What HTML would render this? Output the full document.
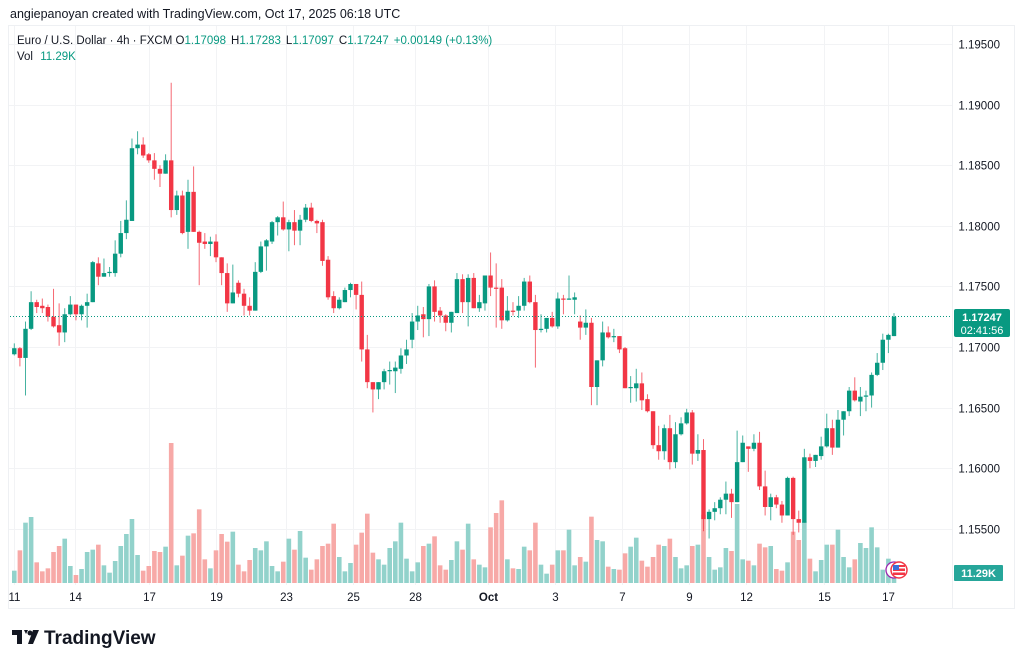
<!DOCTYPE html>
<html><head><meta charset="utf-8"><style>
html,body{margin:0;padding:0;background:#fff;width:1024px;height:665px;overflow:hidden;font-family:"Liberation Sans",sans-serif}
svg text{font-family:"Liberation Sans",sans-serif}
</style></head><body>
<svg id="chart" width="1024" height="665" viewBox="0 0 1024 665" xmlns="http://www.w3.org/2000/svg">
<rect x="0" y="0" width="1024" height="665" fill="#ffffff"/>
<text x="10" y="18" font-size="12.5" fill="#131722">angiepanoyan created with TradingView.com, Oct 17, 2025 06:18 UTC</text>
<rect x="8.5" y="25.5" width="1006" height="583" fill="none" stroke="#eef0f3"/>
<line x1="952.5" y1="26" x2="952.5" y2="608" stroke="#eef0f3"/>
<g id="grid"></g>
<g id="vols"></g>
<g id="candles"></g>
<g id="yaxis"></g>
<g id="xaxis"></g>
<line x1="10" y1="316.5" x2="952" y2="316.5" stroke="#089981" stroke-width="1" stroke-dasharray="1,2"/>
<g>
<text x="17" y="44" font-size="11.5" fill="#131722">Euro / U.S. Dollar · 4h · FXCM <tspan>O</tspan><tspan fill="#089981">1.17098</tspan><tspan dx="5">H</tspan><tspan fill="#089981">1.17283</tspan><tspan dx="5">L</tspan><tspan fill="#089981">1.17097</tspan><tspan dx="5">C</tspan><tspan fill="#089981">1.17247</tspan><tspan dx="5" fill="#089981">+0.00149 (+0.13%)</tspan></text>
<text x="17" y="60" font-size="11.5" fill="#131722">Vol <tspan dx="4" fill="#089981">11.29K</tspan></text>
</g>
<g>
<rect x="954" y="309" width="56" height="28" rx="2" fill="#089981"/>
<text x="982" y="321" font-size="11" fill="#fff" text-anchor="middle" font-weight="bold">1.17247</text>
<text x="982" y="334" font-size="11" fill="#fff" text-anchor="middle">02:41:56</text>
</g>
<g>
<rect x="954" y="565" width="49" height="16" rx="1" fill="#26a69a"/>
<text x="978.5" y="577" font-size="11" fill="#fff" text-anchor="middle" font-weight="bold">11.29K</text>
</g>
<g>
<circle cx="894" cy="570" r="8" fill="#fff" stroke="#9c27b0" stroke-width="1.3"/>
<circle cx="899" cy="570" r="8" fill="#fff" stroke="#f23645" stroke-width="1.5"/>
<rect x="893" y="565" width="12" height="10" fill="#f23645"/>
<rect x="893" y="567" width="12" height="1.5" fill="#fff"/><rect x="893" y="571" width="12" height="1.5" fill="#fff"/>
<rect x="893" y="565" width="6" height="5" fill="#3b6fd8"/>
</g>
<g>
<path d="M12 630h10v14h-5v-9h-5z M24 630h4l-2 4z" fill="#131722"/>
<circle cx="30" cy="633" r="2.5" fill="#131722"/>
<path d="M33 630h6l-6 14h-5z" fill="#131722"/>
<text x="44" y="644" font-size="19" font-weight="bold" fill="#131722">TradingView</text>
</g>
</svg>
<script>
const opens=[1.1694,1.1699,1.1691,1.1715,1.1737,1.1734,1.1733,1.1725,1.1718,1.1712,1.1727,1.1735,1.1727,1.1734,1.1737,1.1769,1.1758,1.1761,1.1761,1.1777,1.1794,1.1804,1.1864,1.1867,1.1859,1.1854,1.1847,1.1843,1.1854,
1.1813,1.1825,1.1795,1.1828,1.1795,1.1787,1.1785,1.1787,1.1774,1.1761,1.1736,1.1753,1.1744,1.1734,1.1730,1.1762,1.1783,1.1787,1.1803,1.1807,1.1797,1.1803,1.1796,1.1805,1.1815,1.1804,1.1803,1.1772,1.1742,1.1732,
1.1737,1.1747,1.1752,1.1743,1.1698,1.1671,1.1665,1.1671,1.1680,1.1680,1.1682,1.1693,1.1706,1.1721,1.1727,1.1723,1.1750,1.1730,1.1726,1.1720,1.1728,1.1756,1.1737,1.1757,1.1732,1.1736,1.1759,1.1749,1.1749,
1.1722,1.1730,1.1730,1.1734,1.1754,1.1737,1.1714,1.1715,1.1724,1.1717,1.1740,1.1739,1.1739,1.1721,1.1716,1.1720,1.1667,1.1689,1.1712,1.1708,1.1709,1.1699,1.1666,1.1666,1.1670,1.1657,1.1647,1.1619,1.1614,
1.1633,1.1605,1.1628,1.1637,1.1646,1.1612,1.1615,1.1558,1.1564,1.1567,1.1574,1.1579,1.1572,1.1605,1.1618,1.1616,1.1621,1.1585,1.1568,1.1576,1.1570,1.1561,1.1592,1.1558,1.1555,1.1609,1.1606,1.1610,1.1618,1.1633,1.1617,1.1640,1.1647,1.1664,1.1655,1.1659,1.1660,1.1677,1.1687,1.1706,1.1709];
const closes=[1.1699,1.1691,1.1715,1.1737,1.1733,1.1732,1.1725,1.1717,1.1712,1.1727,1.1735,1.1727,1.1734,1.1737,1.1770,1.1758,1.1761,1.1762,1.1777,1.1794,1.1805,1.1864,1.1867,1.1858,1.1854,1.1847,1.1843,1.1854,1.1813,
1.1825,1.1794,1.1828,1.1795,1.1786,1.1785,1.1787,1.1774,1.1761,1.1736,1.1745,1.1744,1.1734,1.1730,1.1762,1.1783,1.1788,1.1803,1.1807,1.1797,1.1803,1.1796,1.1805,1.1815,1.1804,1.1802,1.1771,1.1741,1.1732,1.1739,
1.1747,1.1752,1.1743,1.1698,1.1671,1.1665,1.1671,1.1680,1.1681,1.1683,1.1693,1.1698,1.1721,1.1726,1.1723,1.1750,1.1729,1.1726,1.1720,1.1729,1.1756,1.1737,1.1757,1.1732,1.1737,1.1759,1.1749,1.1748,1.1722,
1.1730,1.1729,1.1734,1.1754,1.1737,1.1714,1.1715,1.1724,1.1717,1.1740,1.1739,1.1740,1.1741,1.1716,1.1720,1.1667,1.1689,1.1712,1.1708,1.1709,1.1698,1.1666,1.1667,1.1670,1.1656,1.1647,1.1619,1.1614,1.1633,
1.1605,1.1628,1.1637,1.1646,1.1612,1.1615,1.1558,1.1564,1.1567,1.1574,1.1579,1.1572,1.1605,1.1621,1.1616,1.1621,1.1585,1.1568,1.1576,1.1570,1.1561,1.1592,1.1558,1.1555,1.1609,1.1606,1.1611,1.1618,1.1633,1.1617,1.1640,1.1647,1.1664,1.1656,1.1659,1.1660,1.1677,1.1687,1.1706,1.1710,1.1725];
const highs=[1.1703,1.1700,1.1721,1.1746,1.1739,1.1740,1.1735,1.1748,1.1736,1.1732,1.1742,1.1735,1.1735,1.1744,1.1771,1.1774,1.1773,1.1766,1.1788,1.1804,1.1821,1.1872,1.1878,1.1873,1.1860,1.1860,1.1850,1.1859,1.1918,
1.1829,1.1829,1.1838,1.1849,1.1796,1.1794,1.1791,1.1793,1.1774,1.1769,1.1768,1.1755,1.1748,1.1741,1.1770,1.1787,1.1789,1.1804,1.1808,1.1820,1.1805,1.1813,1.1809,1.1818,1.1819,1.1805,1.1805,1.1775,1.1746,1.1741,
1.1749,1.1753,1.1752,1.1754,1.1710,1.1671,1.1671,1.1682,1.1688,1.1688,1.1699,1.1706,1.1728,1.1734,1.1733,1.1752,1.1755,1.1733,1.1727,1.1729,1.1761,1.1760,1.1760,1.1761,1.1743,1.1759,1.1778,1.1769,1.1756,
1.1742,1.1737,1.1742,1.1757,1.1759,1.1743,1.1727,1.1724,1.1729,1.1745,1.1743,1.1759,1.1745,1.1726,1.1731,1.1724,1.1689,1.1721,1.1717,1.1715,1.1709,1.1700,1.1676,1.1682,1.1679,1.1661,1.1647,1.1635,1.1636,
1.1644,1.1638,1.1642,1.1649,1.1648,1.1628,1.1624,1.1566,1.1572,1.1576,1.1589,1.1583,1.1631,1.1627,1.1618,1.1628,1.1630,1.1598,1.1579,1.1578,1.1573,1.1593,1.1593,1.1565,1.1616,1.1612,1.1611,1.1626,1.1645,1.1640,1.1648,1.1647,1.1667,1.1675,1.1667,1.1664,1.1679,1.1695,1.1711,1.1711,1.1728];
const lows=[1.1693,1.1684,1.1660,1.1714,1.1728,1.1728,1.1721,1.1716,1.1701,1.1704,1.1726,1.1722,1.1722,1.1716,1.1737,1.1751,1.1758,1.1758,1.1758,1.1774,1.1789,1.1804,1.1859,1.1856,1.1852,1.1838,1.1832,1.1843,1.1807,
1.1809,1.1793,1.1781,1.1795,1.1751,1.1781,1.1775,1.1770,1.1751,1.1729,1.1736,1.1741,1.1726,1.1726,1.1730,1.1761,1.1763,1.1785,1.1792,1.1796,1.1779,1.1784,1.1784,1.1803,1.1803,1.1794,1.1767,1.1739,1.1728,1.1731,
1.1737,1.1741,1.1731,1.1688,1.1666,1.1646,1.1657,1.1665,1.1669,1.1662,1.1678,1.1686,1.1699,1.1714,1.1708,1.1709,1.1721,1.1720,1.1713,1.1712,1.1728,1.1728,1.1717,1.1732,1.1729,1.1730,1.1742,1.1716,1.1715,
1.1721,1.1726,1.1724,1.1730,1.1736,1.1683,1.1712,1.1712,1.1716,1.1715,1.1727,1.1739,1.1727,1.1706,1.1710,1.1652,1.1652,1.1684,1.1707,1.1704,1.1695,1.1666,1.1654,1.1655,1.1648,1.1646,1.1616,1.1607,1.1607,
1.1599,1.1600,1.1627,1.1636,1.1603,1.1606,1.1548,1.1542,1.1557,1.1562,1.1562,1.1559,1.1572,1.1605,1.1597,1.1614,1.1582,1.1561,1.1557,1.1567,1.1555,1.1561,1.1545,1.1547,1.1555,1.1600,1.1601,1.1607,1.1617,1.1611,1.1617,1.1627,1.1643,1.1655,1.1643,1.1647,1.1650,1.1676,1.1681,1.1695,1.1709];
const volumes=[37,98,181,198,62,35,44,93,111,133,51,24,42,93,100,115,53,31,66,111,147,192,84,37,51,96,93,109,420,53,82,142,149,221,71,44,98,147,124,154,55,35,69,105,98,125,51,35,64,133,100,156,76,40,71,111,118,178,78,35,60,115,151,208,91,71,55,105,125,181,73,35,62,111,118,140,53,40,69,
125,100,178,71,55,47,167,210,248,71,44,42,109,98,181,55,28,55,98,98,160,53,78,64,199,129,125,49,42,40,89,109,136,67,49,78,115,111,133,78,44,53,111,115,205,78,40,47,105,96,237,71,67,53,118,107,111,42,37,62,154,129,185,73,35,69,115,115,160,78,47,71,120,105,167,107,40,73,50];
const priceTicks=[1.195,1.19,1.185,1.18,1.175,1.17,1.165,1.16,1.155];
const timeLabels=["11","14","17","19","23","25","28","Oct","3","7","9","12","15","17"];
const timeLabelIdx=[0,10.8,24,36,48.5,60.5,71.5,84.5,96.5,108.5,120.5,130.5,144.5,156];

const NS="http://www.w3.org/2000/svg";
const x0=14.3, step=(894-14.3)/157;
function xs(i){return x0+i*step;}
function ys(p){return 44+(1.195-p)*12120;}
function vh(v){return v/3;}
const volBase=583;
function mk(tag,attrs,parent){const e=document.createElementNS(NS,tag);for(const k in attrs)e.setAttribute(k,attrs[k]);parent.appendChild(e);return e;}
const grid=document.getElementById('grid'),yax=document.getElementById('yaxis'),xax=document.getElementById('xaxis');
priceTicks.forEach((p,k)=>{
  const y=Math.round(ys(p))+0.5;
  const l=mk('line',{x1:9,x2:952,y1:y,y2:y,stroke:'#f2f3f5'},grid);
  
  
  const t=mk('text',{x:1000,y:y+4,'font-size':11.5,fill:'#131722','text-anchor':'end'},yax);
  
  
  t.textContent=p.toFixed(5);
});
timeLabels.forEach((s,k)=>{
  const x=Math.round(xs(timeLabelIdx[k]))+0.5;
  const l=mk('line',{x1:x,x2:x,y1:26,y2:585,stroke:'#f2f3f5'},grid);
  
  
  const t=mk('text',{x:x,y:601,'font-size':11.5,fill:'#131722','text-anchor':'middle','font-weight':s==='Oct'?'bold':'normal'},xax);
  
  
  t.textContent=s;
});
const vg=document.getElementById('vols'),cg=document.getElementById('candles');
volumes.forEach((v,i)=>{
  const up=closes[i]>=opens[i];
  const h=vh(v);
  const r=mk('rect',{x:xs(i)-2.3,y:volBase-h,width:4.6,height:h,fill:up?'#92d2cb':'#f7a9a7'},vg);
  
  
});
opens.forEach((o,i)=>{
  const c=closes[i],up=c>=o,col=up?'#089981':'#f23645';
  const x=xs(i);
  const w=mk('line',{x1:x,x2:x,y1:ys(highs[i]),y2:ys(lows[i]),stroke:col,'stroke-width':1,opacity:0.75},cg);
  
  
  const top=ys(Math.max(o,c)),bot=ys(Math.min(o,c));
  const b=mk('rect',{x:x-2.2,y:top,width:4.4,height:Math.max(1,bot-top),fill:col},cg);
  
  
});
</script>
</body></html>
